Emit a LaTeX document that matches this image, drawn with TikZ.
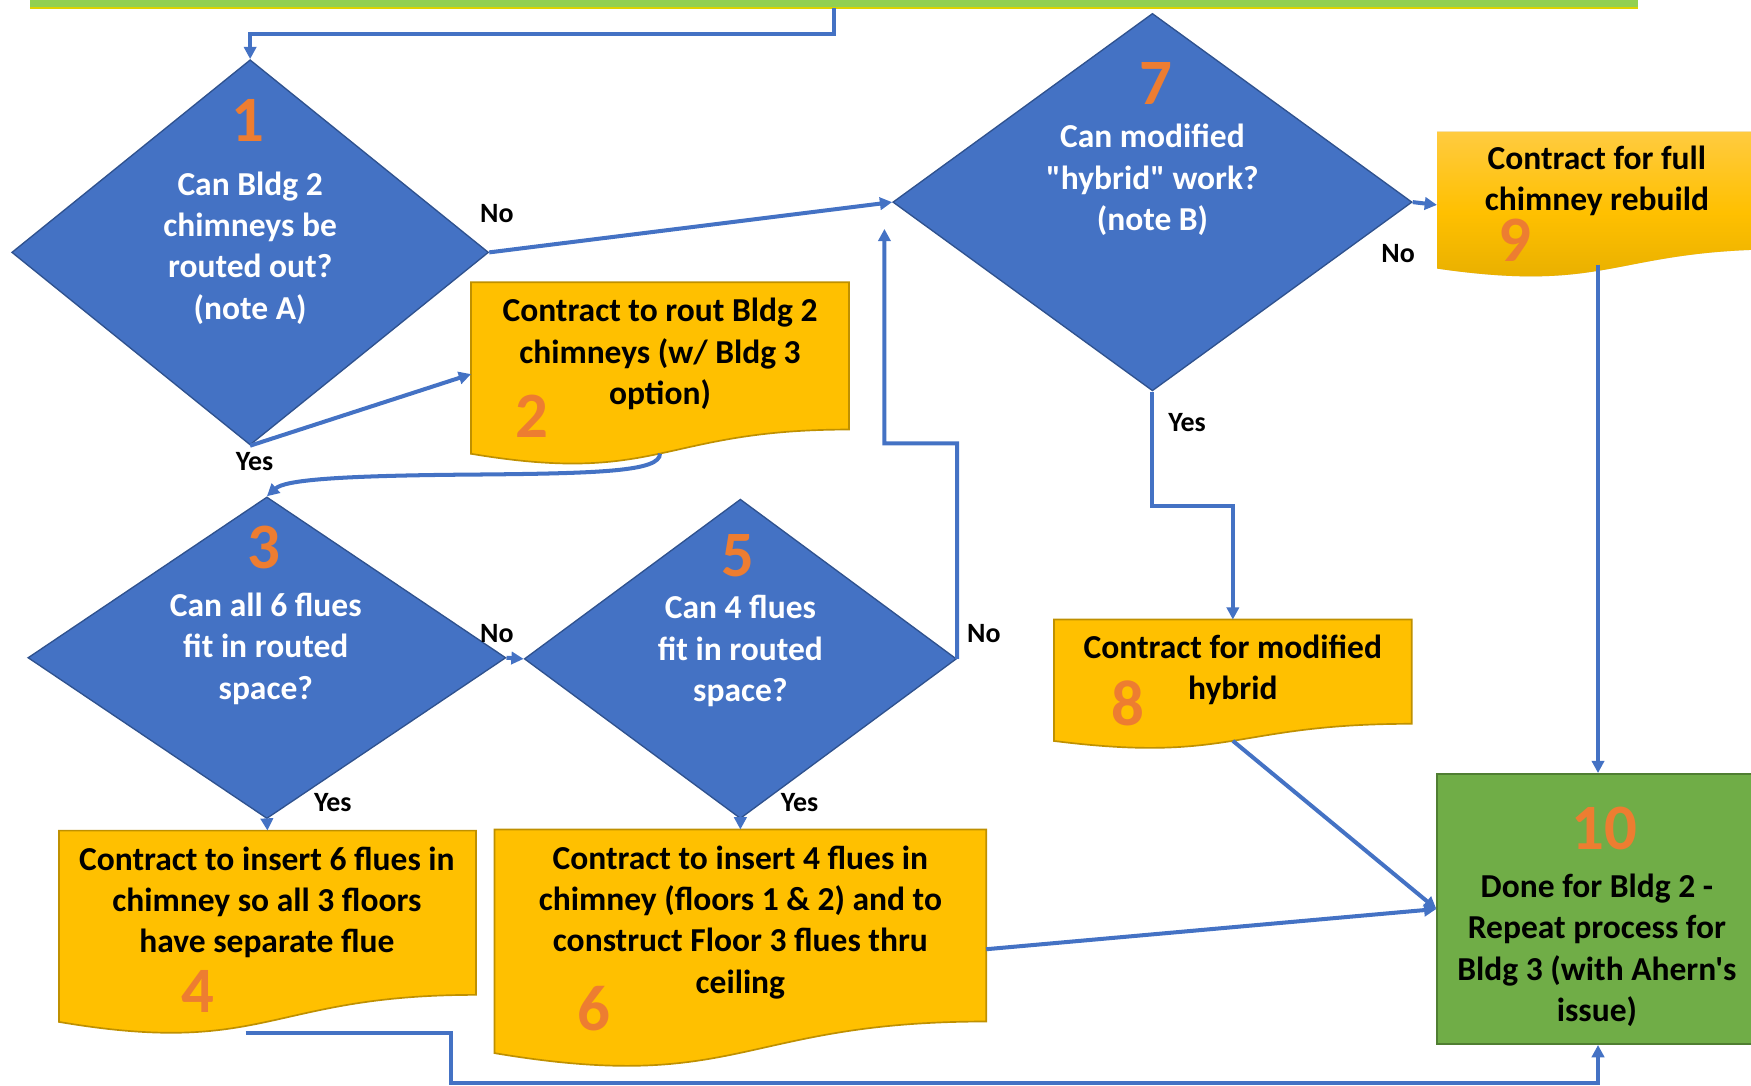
\documentclass[tikz,border=0pt]{standalone}
\usepackage{fontspec}
\setmainfont{Carlito}[Ligatures=TeXOff]
\usetikzlibrary{arrows.meta,shapes.geometric,calc}
\definecolor{dblue}{HTML}{4472C4}
\definecolor{dblueedge}{HTML}{2F528F}
\definecolor{gold}{HTML}{FFC000}
\definecolor{goldedge}{HTML}{BF9000}
\definecolor{orng}{HTML}{ED7D31}
\definecolor{grn}{HTML}{70AD47}
\definecolor{grnedge}{HTML}{507E32}
\definecolor{lgrn}{HTML}{92D050}
\definecolor{goldtop}{HTML}{FFCB40}
\definecolor{goldbot}{HTML}{E3AC00}
\newcommand\docshape[2]{%
  \path[#2] (#1.north west) -- (#1.north east) -- ($(#1.north east)!0.802!(#1.south east)$)
    .. controls ($(#1.north)!0.802!(#1.south)$) and ($(#1.north)!1.107!(#1.south)$) ..
    ($(#1.north west)!0.934!(#1.south west)$) -- cycle;}
\begin{document}
\begin{tikzpicture}[x=1pt,y=-1pt,
  dia/.style={diamond, draw=dblueedge, fill=dblue, line width=1.2pt, inner sep=0pt},
  area/.style={inner sep=0pt, draw=none},
  qtext/.style={text=white, font=\bfseries\fontsize{30}{37}\selectfont, align=center, inner sep=0pt},
  btext/.style={text=black, font=\bfseries\fontsize{30}{37}\selectfont, align=center, inner sep=0pt},
  num/.style={text=orng, font=\bfseries\fontsize{58}{60}\selectfont, inner sep=0pt},
  lbl/.style={text=black, font=\bfseries\fontsize{25}{30}\selectfont, inner sep=0pt},
  conn/.style={draw=dblue, line width=3.6pt, -{Triangle[length=11pt,width=11pt]}},
  docbox/.style={fill=gold, draw=goldedge, line width=1.5pt}
]
\useasboundingbox (0,0) rectangle (1568,972);
% top bar
\node[area, fill=lgrn, minimum width=1440pt, minimum height=20pt] (top) at (747,-3) {};
\draw[color=yellow!70!olive, line width=1pt] (top.south west) -- (top.south east);

% diamonds
\node[dia, minimum width=427pt, minimum height=345pt] (d1) at (224,226) {};
\node[dia, minimum width=465pt, minimum height=338pt] (d7) at (1032,181) {};
\node[dia, minimum width=428pt, minimum height=288pt] (d3) at (239,589) {};
\node[dia, minimum width=387pt, minimum height=286pt] (d5) at (663,590) {};

% document boxes
\node[area, minimum width=338pt, minimum height=164pt] (b2) at (591,335) {};
\node[area, minimum width=373pt, minimum height=183pt] (b4) at (239.5,835.5) {};
\node[area, minimum width=440pt, minimum height=214pt] (b6) at (663,850) {};
\node[area, minimum width=320pt, minimum height=116pt] (b8) at (1104,613) {};
\node[area, minimum width=313pt, minimum height=131pt] (b9) at (1443.5,183.5) {};
\docshape{b2}{docbox}
\docshape{b4}{docbox}
\docshape{b6}{docbox}
\docshape{b8}{docbox}
% box 9 with shadow and gradient
\begin{scope}[shift={(3,5)}]
\docshape{b9}{fill=black, opacity=0.18}
\end{scope}
\docshape{b9}{top color=goldtop, bottom color=goldbot, middle color=gold}

% final box
\node[area, fill=grn, draw=grnedge, line width=1.5pt, minimum width=290pt, minimum height=242pt] (b10) at (1432,814) {};

% texts
\node[qtext] (t1) at (224,222) {Can Bldg 2\\chimneys be\\routed out?\\(note A)};
\node[qtext] (t7) at (1032,161) {Can modified\\"hybrid" work?\\(note B)};
\node[qtext] (t3) at (238,581) {Can all 6 flues\\fit in routed\\space?};
\node[qtext] (t5) at (663,583) {Can 4 flues\\fit in routed\\space?};
\node[btext] (t2) at (591,317) {Contract to rout Bldg 2\\chimneys (w/ Bldg 3\\option)};
\node[btext] (t9) at (1430,162) {Contract for full\\chimney rebuild};
\node[btext] (t4) at (239,808) {Contract to insert 6 flues in\\chimney so all 3 floors\\have separate flue};
\node[btext] (t6) at (663,826) {Contract to insert 4 flues in\\chimney (floors 1 \& 2) and to\\construct Floor 3 flues thru\\ceiling};
\node[btext] (t8) at (1104,600) {Contract for modified\\hybrid};
\node[btext] (t10) at (1430,851) {Done for Bldg 2 -\\Repeat process for\\Bldg 3 (with Ahern's\\issue)};

% numbers
\node[num] (n1) at (222,108) {1};
\node[num] (n2) at (476,373) {2};
\node[num] (n3) at (236,490) {3};
\node[num] (n4) at (177,888) {4};
\node[num] (n5) at (661,498) {5};
\node[num] (n6) at (532,903) {6};
\node[num] (n7) at (1035,75) {7};
\node[num] (n8) at (1010,630) {8};
\node[num] (n9) at (1357,215) {9};
\node[num] (n10) at (1437,742) {10};

% labels
\node[lbl] (l1) at (445,191) {No};
\node[lbl] (l2) at (228,413) {Yes};
\node[lbl] (l3) at (445,567) {No};
\node[lbl] (l4) at (881,567) {No};
\node[lbl] (l5) at (298,719) {Yes};
\node[lbl] (l6) at (716,719) {Yes};
\node[lbl] (l7) at (1063,378) {Yes};
\node[lbl] (l8) at (1252,227) {No};

% coordinates
\coordinate (b2bot) at ($(b2.north)!0.933!(b2.south)$);
\coordinate (b8bot) at ($(b8.north)!0.933!(b8.south)$);
\coordinate (b9bot) at (1431,237);
\coordinate (b4bot) at (220,925);
\coordinate (d7up) at (792,205);

% connectors
\draw[conn] (top.south) -- ++(0,23) -| (d1.north);
\draw[conn] (d1.east) -- (d7.west);
\draw[conn] (d1.south) -- (b2.west);
\draw[conn] (b2bot) .. controls (591,422) and (540,424) .. (420,425) .. controls (300,426) and (255,430) .. (d3.north);
\draw[conn] (d3.east) -- (d5.west);
\draw[conn] (d5.east) -- (857,397) -- (792,397) -- (d7up);
\draw[conn] (d3.south) -- (b4.north);
\draw[conn] (d5.south) -- (b6.north);
\draw[conn] (d7.south) -- (1032,453) -| (b8.north);
\draw[conn] (d7.east) -- (b9.west);
\draw[conn] (b9bot) -- (b9bot |- b10.north);
\draw[conn] (b8bot) -- (b10.west);
\draw[conn] (b6.east) -- (b10.west);
\draw[conn] (b4bot) -- (404,925) -- (404,970) -- (1431,970) -- (1431,970 |- b10.south);
\end{tikzpicture}
\end{document}
